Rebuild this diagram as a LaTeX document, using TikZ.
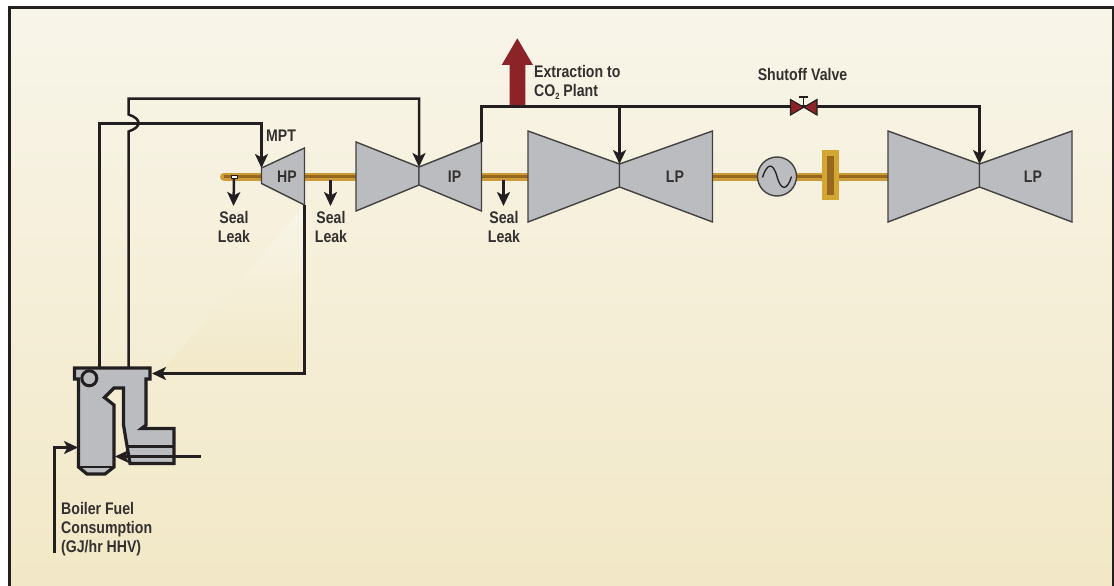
\documentclass[tikz,border=0pt]{standalone}
\usepackage{fontspec}
\setmainfont[FakeStretch=0.84]{Liberation Sans Bold}
\usetikzlibrary{arrows.meta,calc}
\definecolor{cInk}{HTML}{231F20}
\definecolor{cText}{HTML}{33302F}
\definecolor{cSteel}{HTML}{BBBCC0}
\definecolor{cGold}{HTML}{CE9C36}
\definecolor{cBrown}{HTML}{96671F}
\definecolor{cRed}{HTML}{8B2328}
\definecolor{cTop}{HTML}{F8F5E9}
\definecolor{cBottom}{HTML}{F2E8C7}

\begin{document}
\begin{tikzpicture}[x=1pt,y=-1pt,
      txt/.style={font=\fontsize{16.8}{19}\selectfont,text=cText,inner sep=0pt,align=center},
      arr/.style={-{Stealth[length=14pt,width=13pt,inset=3.5pt]},cInk,line width=2.5pt},
      pipe/.style={cInk,line width=2.5pt},
      turb/.style={draw=cInk!85,fill=cSteel,line width=1.4pt,line join=miter},
      boil/.style={draw=cInk,fill=cSteel,line width=3.2pt,line join=miter},
      shaft/.style={cGold,line width=8pt},
      shaftcore/.style={cBrown,line width=2.4pt}]
    \useasboundingbox (0,0) rectangle (1114,586);
    % panel
    \shade[top color=cTop,bottom color=cBottom] (9,7) rectangle (1113,586);
    \shade[top color=cTop,bottom color=cBottom!98!cTop] (304.5,205) -- (304.5,373.5) -- (160,373.5) -- cycle;
    \draw[cInk,line width=2.6pt] (9.5,586) -- (9.5,7.5) -- (1113.5,7.5) -- (1113.5,586);

    % turbine corners
    \coordinate (hpin) at (261.5,168);
    \coordinate (hpout) at (304.5,205);
    \coordinate (ipin) at (419,167);
    \coordinate (ipout) at (481.5,142);
    \coordinate (lpa) at (619.5,164);
    \coordinate (lpb) at (979.5,164);
    \coordinate (boilA) at (99.5,368);
    \coordinate (boilB) at (128.5,368);
    \coordinate (boilRH) at (152,373.5);
    \coordinate (boilFuel) at (78,447.5);
    \coordinate (boilAir) at (115,456.5);
    \coordinate (fuelStart) at (54.5,552.5);
    \coordinate (airStart) at (201,456.5);
    \coordinate (hump) at (128.5,114.5);
    \coordinate (valve) at (803.5,106.5);

    % shafts
    \draw[shaft,line cap=round] (224,176.5) -- (261.5,176.5);
    \draw[shaft] (304.5,176.5) -- (356,176.5);
    \draw[shaft] (481,176.5) -- (528,176.5);
    \draw[shaft] (712,176.5) -- (888,176.5);
    \draw[shaftcore] (224,176.5) -- (261.5,176.5);
    \draw[shaftcore] (304.5,176.5) -- (356,176.5);
    \draw[shaftcore] (481,176.5) -- (528,176.5);
    \draw[shaftcore] (712,176.5) -- (888,176.5);
    \node[draw=cInk,fill=white,line width=0.8pt,minimum width=6pt,minimum height=3pt,inner sep=0pt] (seal) at (234,176.5) {};

    % turbines
    \draw[turb] (hpin) -- (304.5,148) -- (hpout) -- (261.5,183.5) -- cycle;
    \draw[turb] (356,142) -- (ipin) -- (419,185) -- (356,211) -- cycle;
    \draw[turb] (ipin) -- (ipout) -- (481.5,211) -- (419,185) -- cycle;
    \draw[turb] (528,131) -- (lpa) -- (619.5,187) -- (528,222) -- cycle;
    \draw[turb] (lpa) -- (712.5,131) -- (712.5,222) -- (619.5,187) -- cycle;
    \draw[turb] (888,131) -- (lpb) -- (979.5,187) -- (888,222) -- cycle;
    \draw[turb] (lpb) -- (1072,131) -- (1072,222) -- (979.5,187) -- cycle;

    % generator and coupling
    \node[circle,turb,minimum size=39pt,inner sep=0pt] (gen) at (777,176.5) {};
    \draw[cInk,line width=1.3pt] (762.5,177.5) .. controls (767,163) and (773,162) .. (777,176.5)
      .. controls (781,191) and (787,191) .. (791.5,176.5);
    \node[fill=cGold!90!yellow,minimum width=16.5pt,minimum height=50pt,inner sep=0pt] (coupl) at (830.7,175) {};
    \node[fill=cBrown,minimum width=6.5pt,minimum height=39pt,inner sep=0pt] (couplcore) at (830.7,175.5) {};

    % boiler
    \draw[boil] (78.5,379) -- (74.5,379) -- (74.5,368) -- (150,368) -- (150,379) -- (146,379) -- (146,425)
      -- (141.5,428.5) -- (174,428.5) -- (174,463.5) -- (130,463.5) -- (123.5,425) -- (123.5,388)
      -- (114,388) -- (104.5,397.5) -- (114,405) -- (114,467) -- (105,474) -- (87,474) -- (78.5,467) -- cycle;
    \draw[cInk,line width=2.8pt] (78.5,467) -- (114,467);
    \draw[cInk,line width=2.8pt] (128,446.5) -- (174,446.5);
    \node[circle,draw=cInk,line width=3pt,minimum size=15pt,inner sep=0pt] (drum) at (89.3,378.3) {};

    % steam lines
    \draw[arr] (boilA) -- (99.5,123.5) -- (261.5,123.5) -- (hpin);
    \draw[arr] (boilB) -- (128.5,131.5) .. controls (142,127) and (142,119) .. (hump)
      -- (128.5,98.5) -- (419,98.5) -- (ipin);
    \draw[arr] (hpout) |- (boilRH);
    \draw[arr] (fuelStart) |- (boilFuel);
    \draw[arr] (airStart) -- (boilAir);

    % extraction
    \draw[fill=cRed,draw=none] (509.5,106.7) -- (509.5,65) -- (501.7,65) -- (517.3,38.3) -- (533,65)
      -- (525.3,65) -- (525.3,106.7) -- cycle;
    \draw[pipe] (ipout) |- (valve);
    \draw[pipe] (valve) -- (980.8,106.5);
    \draw[arr] (619.5,106.5) -- (lpa);
    \draw[arr] (979.5,106.5) -- (lpb);

    % valve
    \draw[draw=cInk,fill=cRed,line width=1.1pt,line join=miter] (790.5,99.5) -- (817,115) -- (817,99.5) -- (790.5,115) -- cycle;
    \draw[cInk,line width=1.1pt] (valve) -- (803.5,97) (799,97) -- (808,97);

    % seal leaks
    \draw[arr] (seal.south) -- (233.5,206);
    \draw[arr] (330.5,180) -- (330.5,206);
    \draw[arr] (503.5,180) -- (503.5,206);

    % labels
    \node[txt] (hp) at (287,176.5) {HP};
    \node[txt] (ip) at (454.5,176.5) {IP};
    \node[txt] (lp1) at (675,176.5) {LP};
    \node[txt] (lp2) at (1033,176.5) {LP};
    \node[txt,anchor=west] (mpt) at (266,136) {MPT};
    \node[txt] (leak1) at (234,226.5) {Seal\\Leak};
    \node[txt] (leak2) at (331,226.5) {Seal\\Leak};
    \node[txt] (leak3) at (504,226.5) {Seal\\Leak};
    \node[txt,anchor=west,align=left] (extr) at (534,82.5) {Extraction to\\CO\raisebox{-2.5pt}{\fontsize{9}{9}\selectfont 2} Plant};
    \node[txt] (shutoff) at (802.5,74) {Shutoff Valve};
    \node[txt,anchor=west,align=left] (fuel) at (61,529) {Boiler Fuel\\Consumption\\(GJ/hr HHV)};
  \end{tikzpicture}
\end{document}
